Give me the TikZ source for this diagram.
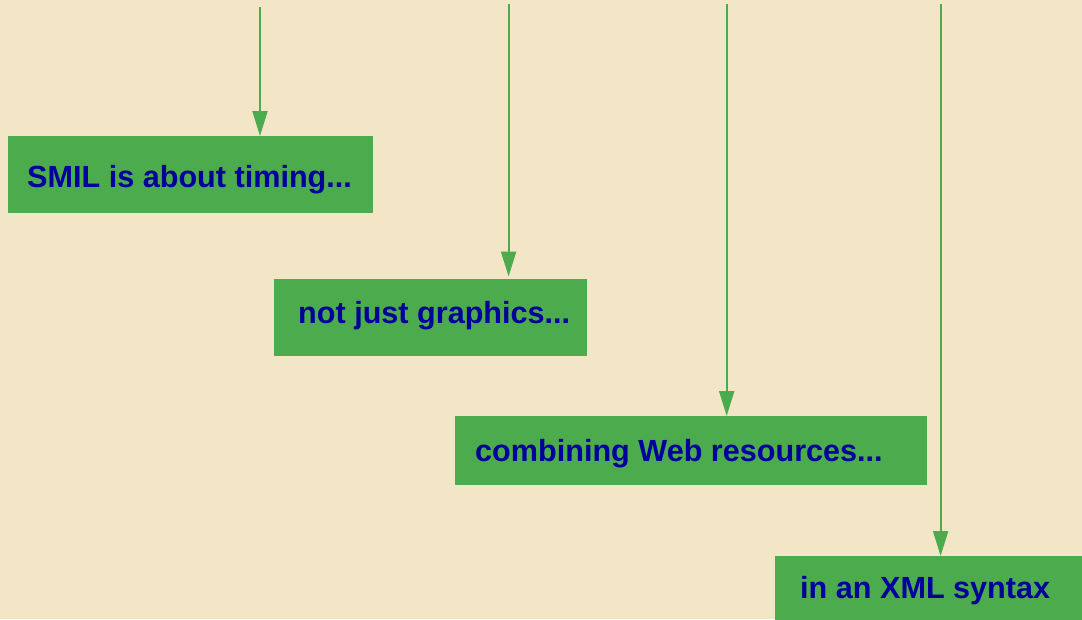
\documentclass[tikz,border=0pt]{standalone}
\usepackage{fontspec}
\setmainfont{Liberation Sans}
\usetikzlibrary{arrows.meta}
\definecolor{bg}{HTML}{F2E6C6}
\definecolor{boxgreen}{HTML}{4CAB4C}
\definecolor{txtblue}{HTML}{00009C}
\tikzset{
  box/.style={fill=boxgreen, draw=none, inner sep=0pt, anchor=north west},
  txt/.style={text=txtblue, font=\bfseries\fontsize{30.6}{34}\selectfont, inner sep=0pt, anchor=base west},
  arr/.style={draw=boxgreen, line width=2pt, -{Triangle[length=25pt,width=15pt]}}
}
\begin{document}
\begin{tikzpicture}[x=1pt,y=-1pt]
\fill[bg] (0,0) rectangle (1082,619);
\useasboundingbox (0,0) rectangle (1082,619);
\node[box, minimum width=365pt, minimum height=77pt] (b1) at (8,136) {};
\node[txt] (t1) at (27,187) {SMIL is about timing...};
\node[box, minimum width=313pt, minimum height=77pt] (b2) at (274,279) {};
\node[txt] (t2) at (298,323.5) {not just graphics...};
\node[box, minimum width=472pt, minimum height=69pt] (b3) at (455,416) {};
\node[txt] (t3) at (475,461) {combining Web resources...};
\node[box, minimum width=320pt, minimum height=70pt] (b4) at (775,556) {};
\node[txt] (t4) at (800,598) {in an XML syntax};
\coordinate (c1) at (260,7);
\coordinate (c2) at (508.6,4);
\coordinate (c3) at (726.7,4);
\coordinate (c4) at (940.6,4);
\draw[arr] (c1) -- (c1 |- b1.north);
\draw[arr] (c2) -- ([yshift=2.5pt]c2 |- b2.north);
\draw[arr] (c3) -- (c3 |- b3.north);
\draw[arr] (c4) -- (c4 |- b4.north);
\end{tikzpicture}
\end{document}
